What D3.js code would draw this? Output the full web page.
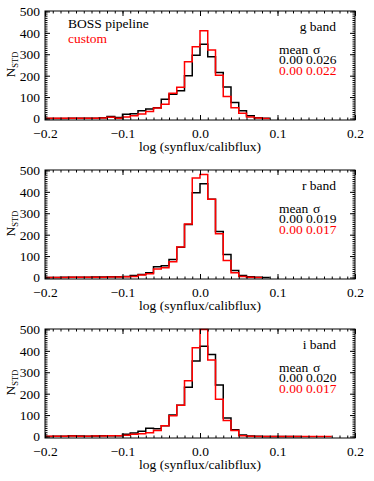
<!DOCTYPE html>
<html>
<head>
<meta charset="utf-8">
<script src="https://cdn.jsdelivr.net/npm/d3@7"></script>
<style>
  body { margin: 0; background: #fff; }
  text { font-family: "Liberation Serif", "Times New Roman", serif; font-size: 13.5px; }
</style>
</head>
<body>
<script>
// histogram bins: 0.01 wide, starting at -0.2
var binStart = -0.2, binWidth = 0.01;

var bandNames = ["g band", "r band", "i band"];

// counts per bin (BOSS pipeline = black, custom = red)
var gBoss   = [0,0,0,1,1,1,1,3,9,5,20,22,36,44,50,90,113,130,200,295,347,288,215,147,75,36,13,4,1];
var gCustom = [1,1,1,1,1,1,1,2,6,1,7,13,21,33,49,67,118,146,265,335,410,320,202,103,50,24,7,2,0];
var rBoss   = [0,0,1,1,1,1,2,2,3,3,5,9,14,22,50,55,84,141,248,396,438,365,215,107,33,9,3,1,0];
var rCustom = [0,0,0,1,1,1,1,1,2,2,3,5,12,17,40,45,73,143,250,465,481,365,204,79,22,5,1,0];
var iBoss   = [0,1,1,4,2,1,2,3,3,3,10,16,24,38,36,50,100,146,230,353,421,383,240,86,32,7,2,1,0,0,0,0,0];
var iCustom = [1,1,1,2,1,1,2,2,3,4,6,10,13,17,28,50,97,146,260,414,500,357,174,75,28,4,1,0,0,0,0,0,0,0,0,0,0];

var meanBoss    = ["0.00", "0.00", "0.00"];
var sigmaBoss   = ["0.026", "0.019", "0.020"];
var meanCustom  = ["0.00", "0.00", "0.00"];
var sigmaCustom = ["0.022", "0.017", "0.017"];

var xTicks = [-0.2, -0.1, 0.0, 0.1, 0.2];
var yTicks = [0, 100, 200, 300, 400, 500];

var bossSeries = [gBoss, rBoss, iBoss];
var customSeries = [gCustom, rCustom, iCustom];

// layout
var W = 374, H = 481;
var left = 45, plotW = 310, plotH = 109, firstTop = 11, panelStep = 159;

var svg = d3.select("body").append("svg")
    .attr("width", W)
    .attr("height", H);

var x = d3.scaleLinear().domain([-0.2, 0.2]).range([0, plotW]);
var y = d3.scaleLinear().domain([-7, 502]).range([plotH, 0]);

// step line through bin edges
var stepLine = d3.line()
    .x(function(d) { return x(d.x); })
    .y(function(d) { return y(d.v); })
    .curve(d3.curveStepAfter);

function toSteps(counts) {
  var pts = counts.map(function(v, i) { return {x: binStart + i * binWidth, v: v}; });
  pts.push({x: binStart + counts.length * binWidth, v: counts[counts.length - 1]});
  return pts;
}

var minorX = d3.range(0, 41).map(function(i) { return -0.2 + i * 0.01; });
var minorY = d3.range(0, 51).map(function(i) { return i * 10; });

bandNames.forEach(function(band, k) {
  var g = svg.append("g")
      .attr("transform", "translate(" + left + "," + (firstTop + k * panelStep) + ")");

  // histograms
  g.append("path")
      .datum(toSteps(bossSeries[k]))
      .attr("fill", "none")
      .attr("stroke", "#000")
      .attr("stroke-width", 1.5)
      .attr("d", stepLine);

  g.append("path")
      .datum(toSteps(customSeries[k]))
      .attr("fill", "none")
      .attr("stroke", "#ff0000")
      .attr("stroke-width", 1.5)
      .attr("d", stepLine);

  // minor ticks
  g.append("g").attr("transform", "translate(0," + plotH + ")")
      .call(d3.axisBottom(x).tickValues(minorX).tickSize(-2.5).tickFormat(""));
  g.append("g")
      .call(d3.axisTop(x).tickValues(minorX).tickSize(-2.5).tickFormat(""));
  g.append("g")
      .call(d3.axisLeft(y).tickValues(minorY).tickSize(-2.5).tickFormat(""));
  g.append("g").attr("transform", "translate(" + plotW + ",0)")
      .call(d3.axisRight(y).tickValues(minorY).tickSize(-2.5).tickFormat(""));

  // major ticks + labels
  g.append("g").attr("transform", "translate(0," + plotH + ")")
      .call(d3.axisBottom(x).tickValues(xTicks).tickSize(-5).tickPadding(8.5).tickFormat(d3.format(".1f")));
  g.append("g")
      .call(d3.axisTop(x).tickValues(xTicks).tickSize(-5).tickFormat(""));
  g.append("g")
      .call(d3.axisLeft(y).tickValues(yTicks).tickSize(-5).tickPadding(5));
  g.append("g").attr("transform", "translate(" + plotW + ",0)")
      .call(d3.axisRight(y).tickValues(yTicks).tickSize(-5).tickFormat(""));

  g.selectAll(".domain").remove();
  g.selectAll(".tick line").attr("stroke", "#000");
  g.selectAll(".tick text")
      .attr("fill", "#000")
      .style("font-family", "'Liberation Serif', serif")
      .style("font-size", "13.5px");

  // frame
  g.append("rect")
      .attr("width", plotW)
      .attr("height", plotH)
      .attr("fill", "none")
      .attr("stroke", "#000")
      .attr("stroke-width", 1);

  // axis titles
  g.append("text")
      .attr("x", plotW / 2)
      .attr("y", plotH + 31)
      .attr("text-anchor", "middle")
      .text("log (synflux/calibflux)");

  var ylab = g.append("text")
      .attr("transform", "translate(-30," + (plotH / 2 - 1) + ") rotate(-90)")
      .attr("text-anchor", "middle");
  ylab.append("tspan").text("N");
  ylab.append("tspan").attr("dy", 3).style("font-size", "8.5px").text("STD");

  // band label and stats
  g.append("text")
      .attr("x", 291)
      .attr("y", 20)
      .attr("text-anchor", "end")
      .text(band);

  g.append("text").attr("x", 234).attr("y", 42.5).text("mean");
  g.append("text").attr("x", 268).attr("y", 42.5).text("σ");
  g.append("text").attr("x", 234).attr("y", 53)
      .text(meanBoss[k] + " " + sigmaBoss[k]);
  g.append("text").attr("x", 234).attr("y", 63.5).attr("fill", "#ff0000")
      .text(meanCustom[k] + " " + sigmaCustom[k]);

  // legend on first panel only
  if (k === 0) {
    g.append("text").attr("x", 23).attr("y", 17).text("BOSS pipeline");
    g.append("text").attr("x", 23).attr("y", 31.5).attr("fill", "#ff0000").text("custom");
  }
});
</script>
</body>
</html>
